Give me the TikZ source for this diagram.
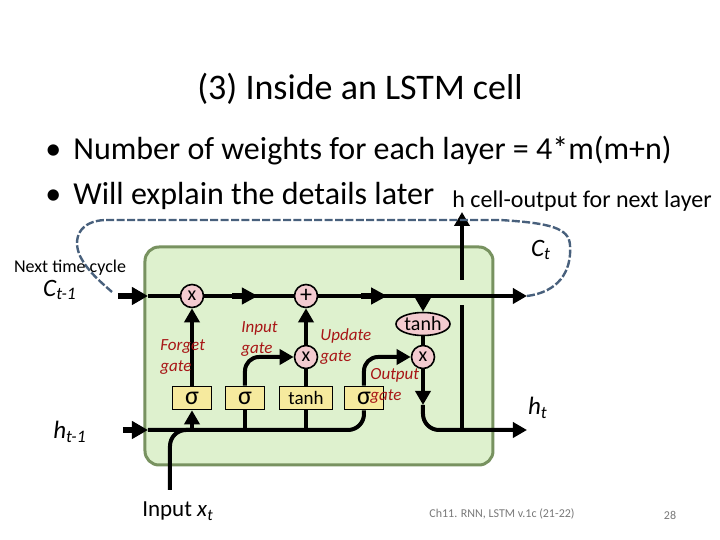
\documentclass[tikz,border=0pt]{standalone}
\usepackage{fontspec}
\setmainfont{Carlito}
\usepackage{xcolor}
\usetikzlibrary{arrows.meta,shapes.geometric,positioning,calc,decorations.markings}
\definecolor{cellGreen}{RGB}{222,241,206}
\definecolor{cellBorder}{RGB}{120,146,96}
\definecolor{opPink}{RGB}{243,203,208}
\definecolor{gateYellow}{RGB}{246,234,158}
\definecolor{gateRed}{RGB}{168,22,22}
\definecolor{loopBlue}{RGB}{72,96,124}
\definecolor{footGray}{RGB}{120,120,120}
\tikzset{
  cellbox/.style={
    rectangle, rounded corners=7pt, draw=cellBorder, line width=1.5pt,
    fill=cellGreen
  },
  opnode/.style={
    circle, draw=black, thick, fill=opPink, inner sep=0pt,
    minimum size=11.5pt, font=\fontsize{10}{10}\selectfont
  },
  gatebox/.style={
    rectangle, draw=black, thick, fill=gateYellow, inner sep=1pt,
    minimum width=19.5pt, minimum height=11.5pt, font=\fontsize{9.5}{9.5}\selectfont
  },
  flow/.style={line width=2pt, black},
  tip/.style={-{Triangle[length=7pt,width=7.5pt]}},
  bigtip/.style={line width=3pt, -{Triangle[length=8pt,width=8.5pt]}},
  midtip/.style={postaction={decorate}, decoration={markings,
    mark=at position #1 with {\fill (-13pt,-1.7pt) rectangle (-6pt,1.7pt);
      \arrow{Triangle[length=8pt,width=8pt]}}}},
  gatelabel/.style={text=gateRed, font=\fontsize{8.5}{10.5}\selectfont\itshape,
    align=left, inner sep=0pt, anchor=west}
}

\begin{document}
\begin{tikzpicture}[x=0.5pt, y=-0.5pt]
  \useasboundingbox (0,0) rectangle (720,540);

  % title and bullets
  \node[font=\fontsize{18}{18}\selectfont] (title) at (360,89) {(3) Inside an LSTM cell};
  \node[font=\fontsize{16}{16}\selectfont, anchor=west, inner sep=0pt] (b1) at (45,151)
    {•\hspace{6pt}Number of weights for each layer = 4*m(m+n)};
  \node[font=\fontsize{16}{16}\selectfont, anchor=west, inner sep=0pt] (b2) at (45,196)
    {•\hspace{6pt}Will explain the details later};
  \node[font=\fontsize{12}{12}\selectfont, anchor=west, inner sep=0pt] (hnext) at (452,201)
    {h cell-output for next layer};

  % the cell
  \node[cellbox, minimum width=174pt, minimum height=109pt] (cell) at (319,356) {};

  % operations
  \node[opnode] (fx)  at (192,296) {x};
  \node[opnode, font=\fontsize{12}{12}\selectfont] (add) at (306,296) {+};
  \node[opnode] (ix)  at (306,357) {x};
  \node[opnode] (ox)  at (423,357) {x};
  \node[opnode, ellipse, minimum width=27pt, minimum height=11.5pt] (tanhC) at (423,324) {tanh};

  % gates
  \node[gatebox, font=\fontsize{13}{13}\selectfont] (sig1) at (192,398) {σ};
  \node[gatebox, font=\fontsize{13}{13}\selectfont] (sig2) at (245,398) {σ};
  \node[gatebox, minimum width=26.5pt] (tanhG) at (306,398) {tanh};
  \node[gatebox, font=\fontsize{13}{13}\selectfont] (sig3) at (364,398) {σ};

  % free ends
  \coordinate (Cin)    at (118,296);
  \coordinate (Cedge)  at (148,296);
  \coordinate (Cout)   at (527,296);
  \coordinate (hin)    at (123,430);
  \coordinate (hedge)  at (148,430);
  \coordinate (hout)   at (527,430);
  \coordinate (xin)    at (170,490);
  \coordinate (hup)    at (462,212);
  \coordinate (oxdown) at (423,405);
  \coordinate (loopEnd) at (112,292);

  % cell state line
  \draw[flow, bigtip] (Cin) -- (Cedge);
  \draw[flow] (Cedge) -- (fx);
  \draw[flow, midtip=0.6] (fx) -- (add);
  \draw[flow, tip, midtip=0.33] (add) -- (Cout);
  \draw[flow, tip] (tanhC.north |- add) -- (tanhC);

  % input bus
  \draw[flow, bigtip] (hin) -- (hedge);
  \draw[flow, rounded corners=8pt] (hedge) -- (sig3.south |- hedge) -- (sig3.south);
  \draw[flow, rounded corners=8pt] (xin) -- (xin |- hedge) -- (sig1.south |- hedge);
  \draw[flow, tip] (sig1.south |- hedge) -- (sig1.south);
  \draw[flow] (sig2.south |- hedge) -- (sig2.south);
  \draw[flow] (tanhG.south |- hedge) -- (tanhG.south);

  % gate outputs
  \draw[flow, tip] (sig1) -- (fx);
  \draw[flow, tip, rounded corners=7pt] (sig2.north) |- (ix);
  \draw[flow] (tanhG) -- (ix);
  \draw[flow, tip] (ix) -- (add);
  \draw[flow, tip, rounded corners=7pt] (sig3.north) |- (ox);
  \draw[flow] (tanhC) -- (ox);
  \draw[flow, tip] (ox) -- (oxdown);
  \draw[flow, tip, rounded corners=8pt] (oxdown) |- (hout);

  % output to next layer
  \draw[flow] (hup |- hout) -- ($(hup |- add)+(0,9)$);
  \draw[flow, tip] ($(hup |- add)+(0,-16)$) -- (hup);

  % loop back to next time step
  \draw[loopBlue, line width=1.2pt, dash pattern=on 4pt off 1.2pt]
    (Cout) .. controls (558,292) and (572,272) .. (570,245)
    .. controls (569,228) and (550,223) .. (500,220)
    -- (105,220) .. controls (80,221) and (72,238) .. (80,256)
    .. controls (88,272) and (102,283) .. (loopEnd);

  % labels
  \node[gatelabel] (lforget) at (160,357) {Forget\\gate};
  \node[gatelabel] (linput)  at (241,339) {Input\\gate};
  \node[gatelabel] (lupdate) at (320,347) {Update\\gate};
  \node[gatelabel] (loutput) at (370,386) {Output\\gate};

  \node[font=\fontsize{9}{9}\selectfont] (nextcyc) at (70,268) {Next time cycle};
  \node[font=\fontsize{12.5}{12.5}\selectfont\itshape] (cprev) at (60,290) {C\textsubscript{t-1}};
  \node[font=\fontsize{12.5}{12.5}\selectfont\itshape] (hprev) at (70,432) {h\textsubscript{t-1}};
  \node[font=\fontsize{12.5}{12.5}\selectfont\itshape] (cnext) at (541,250) {C\textsubscript{t}};
  \node[font=\fontsize{12.5}{12.5}\selectfont\itshape] (hnow) at (538,408) {h\textsubscript{t}};
  \node[font=\fontsize{11.5}{11.5}\selectfont] (xlabel) at (178,511) {Input \textit{x}\textsubscript{\textit{t}}};

  % footer
  \node[font=\fontsize{6}{6}\selectfont, text=footGray] (foot) at (502,514) {Ch11. RNN, LSTM v.1c (21-22)};
  \node[font=\fontsize{6}{6}\selectfont, text=footGray] (page) at (670,515) {28};
\end{tikzpicture}
\end{document}
